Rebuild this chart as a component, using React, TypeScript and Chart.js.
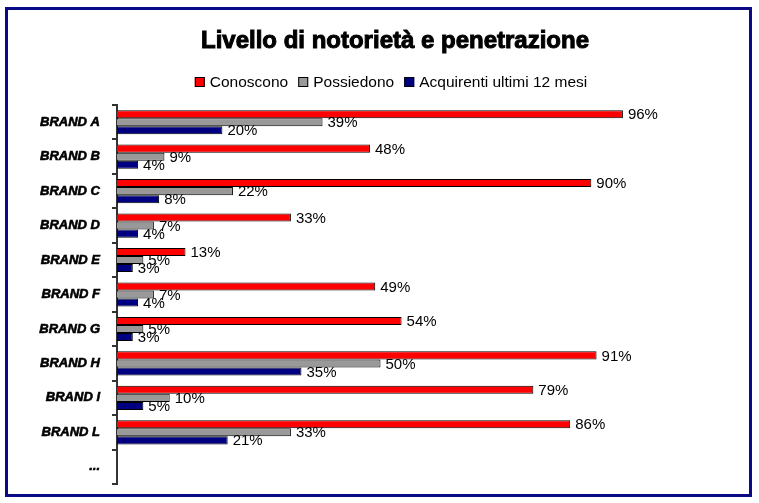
import React, { useEffect, useRef } from "react";
import { Chart, registerables } from "chart.js";

Chart.register(...registerables);

const categories = ["BRAND A", "BRAND B", "BRAND C", "BRAND D", "BRAND E", "BRAND F", "BRAND G", "BRAND H", "BRAND I", "BRAND L", "..."];
const conoscono = [96, 48, 90, 33, 13, 49, 54, 91, 79, 86, null];
const possiedono = [39, 9, 22, 7, 5, 7, 5, 50, 10, 33, null];
const acquirenti = [20, 4, 8, 4, 3, 4, 3, 35, 5, 21, null];
const seriesNames = ["Conoscono", "Possiedono", "Acquirenti ultimi 12 mesi"];
const seriesColors = ["#FF0000", "#999999", "#000080"];
const titleText = "Livello di notorietà e penetrazione";

const FONT = "'Liberation Sans', Arial, sans-serif";

const dataLabels = {
  id: "dataLabels",
  afterDatasetsDraw(chart: any) {
    const ctx = chart.ctx;
    ctx.save();
    ctx.font = `15px ${FONT}`;
    ctx.fillStyle = "#000";
    ctx.textAlign = "left";
    ctx.textBaseline = "middle";
    chart.data.datasets.forEach((ds: any, i: number) => {
      const meta = chart.getDatasetMeta(i);
      meta.data.forEach((el: any, j: number) => {
        const v = ds.data[j];
        if (v === null || v === undefined) return;
        ctx.fillText(v + "%", el.x + 5, el.y + 1);
      });
    });
    ctx.restore();
  },
};

// Title and legend drawn at fixed spots above the plot area
const header = {
  id: "header",
  afterDraw(chart: any) {
    const ctx = chart.ctx;
    ctx.save();
    // title
    ctx.font = `bold 24px ${FONT}`;
    ctx.fillStyle = "#000";
    ctx.strokeStyle = "#000";
    ctx.lineWidth = 1;
    ctx.textAlign = "center";
    ctx.textBaseline = "alphabetic";
    ctx.fillText(titleText, 387, 38);
    ctx.strokeText(titleText, 387, 38);

    // legend
    ctx.font = `15.5px ${FONT}`;
    const box = 10;
    const gapText = 5;
    const gapItem = 10;
    const widths = seriesNames.map((n) => ctx.measureText(n).width);
    const total = widths.reduce((a, w) => a + box + gapText + w, 0) + gapItem * (seriesNames.length - 1);
    let x = 383 - total / 2;
    const baseline = 77;
    ctx.textAlign = "left";
    seriesNames.forEach((n, i) => {
      ctx.fillStyle = seriesColors[i];
      ctx.fillRect(x, baseline - 10, box, box);
      ctx.strokeStyle = "#000";
      ctx.lineWidth = 1;
      ctx.strokeRect(x + 0.5, baseline - 9.5, box - 1, box - 1);
      ctx.fillStyle = "#000";
      ctx.fillText(n, x + box + gapText, baseline);
      x += box + gapText + widths[i] + gapItem;
    });
    ctx.restore();
  },
};

export default function App() {
  const ref = useRef<HTMLCanvasElement | null>(null);
  useEffect(() => {
    if (!ref.current) return;
    const chart = new Chart(ref.current, {
      type: "bar",
      data: {
        labels: categories,
        datasets: [
          { label: seriesNames[0], data: conoscono, backgroundColor: seriesColors[0], borderColor: "#000", borderWidth: 1 },
          { label: seriesNames[1], data: possiedono, backgroundColor: seriesColors[1], borderColor: "#000", borderWidth: 1 },
          { label: seriesNames[2], data: acquirenti, backgroundColor: seriesColors[2], borderColor: "#000", borderWidth: 1 },
        ],
      },
      options: {
        indexAxis: "y",
        responsive: false,
        animation: false,
        layout: { padding: { left: 0, right: 105, top: 95, bottom: 10 } },
        datasets: { bar: { categoryPercentage: 0.7, barPercentage: 1 } },
        scales: {
          x: { display: false, min: 0, max: 100 },
          y: {
            border: { display: true, color: "#333", width: 2 },
            grid: {
              drawOnChartArea: false,
              color: (c: any) => (c.index === categories.length ? "rgba(0,0,0,0)" : "#333"),
              lineWidth: 2,
              tickLength: 5,
              offset: true,
            },
            ticks: {
              color: "#000",
              padding: 12,
              textStrokeColor: "#000",
              textStrokeWidth: 0.6,
              font: { family: FONT, size: 13, weight: "bold", style: "italic" },
            },
            afterFit(scale: any) {
              scale.width = 109;
              scale.paddingTop = 0;
              scale.paddingBottom = 0;
            },
          },
        },
        plugins: {
          title: { display: false },
          legend: { display: false },
          tooltip: { enabled: false },
        },
      },
      plugins: [dataLabels, header],
    });
    return () => chart.destroy();
  }, []);

  return (
    <div
      style={{
        position: "absolute",
        left: 5,
        top: 7,
        width: 747,
        height: 490,
        boxSizing: "border-box",
        border: "3px solid #0a0a86",
        background: "#fff",
      }}
    >
      <canvas ref={ref} width={741} height={484} style={{ display: "block" }} />
    </div>
  );
}
